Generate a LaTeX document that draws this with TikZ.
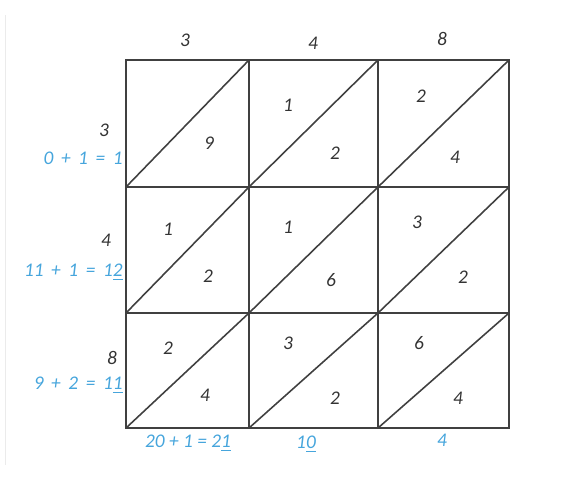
\documentclass[tikz,border=0pt]{standalone}
\usepackage{fontspec}
\setmainfont{Carlito}
\usetikzlibrary{positioning}
\definecolor{sumblue}{RGB}{70,165,220}
\begin{document}
\begin{tikzpicture}[
    x=0.02cm, y=-0.02cm,
    cell/.style={draw=black!75, line width=0.9pt},
    digit/.style={font=\itshape\fontsize{11}{13}\selectfont, text=black!80, inner sep=0pt},
    sum/.style={font=\itshape\fontsize{11}{13}\selectfont, text=sumblue, inner sep=0pt}
]
    \useasboundingbox (0,0) rectangle (567,498);
    \draw[black!8] (5,15) -- (5,465);

    % lattice cells with their diagonals
    \foreach \xa/\xb in {126/249, 249/378, 378/509}
        \foreach \ya/\yb in {60/187, 187/313, 313/428}
            \draw[cell] (\xa,\ya) rectangle (\xb,\yb) (\xa,\yb) -- (\xb,\ya);

    % factors
    \node[digit] (topA) at (185,40) {3};
    \node[digit] (topB) at (313,43) {4};
    \node[digit] (topC) at (442,39) {8};
    \node[digit] (leftA) at (104,130) {3};
    \node[digit] (leftB) at (106,240) {4};
    \node[digit] (leftC) at (112,358) {8};

    % partial products
    \node[digit] (p11b) at (209,143) {9};
    \node[digit] (p12a) at (288,105) {1};
    \node[digit] (p12b) at (335,153) {2};
    \node[digit] (p13a) at (421,96) {2};
    \node[digit] (p13b) at (455,157) {4};
    \node[digit] (p21a) at (168,229) {1};
    \node[digit] (p21b) at (208,276) {2};
    \node[digit] (p22a) at (288,227) {1};
    \node[digit] (p22b) at (331,280) {6};
    \node[digit] (p23a) at (417,222) {3};
    \node[digit] (p23b) at (463,277) {2};
    \node[digit] (p31a) at (168,348) {2};
    \node[digit] (p31b) at (205,395) {4};
    \node[digit] (p32a) at (288,343) {3};
    \node[digit] (p32b) at (335,398) {2};
    \node[digit] (p33a) at (419,343) {6};
    \node[digit] (p33b) at (458,398) {4};

    % diagonal sums
    \node[sum, anchor=east] (sumA) at (123,158) {0 \,+\, 1 \,=\, 1};
    \node[sum, anchor=east] (sumB) at (123,272) {11 \,+\, 1 \,=\, 1\underline{2}};
    \node[sum, anchor=east] (sumC) at (123,385) {9 \,+\, 2 \,=\, 1\underline{1}};
    \node[sum] (sumD) at (188,443) {20 + 1 = 2\underline{1}};
    \node[sum] (sumE) at (306,444) {1\underline{0}};
    \node[sum] (sumF) at (442,440) {4};
\end{tikzpicture}
\end{document}
